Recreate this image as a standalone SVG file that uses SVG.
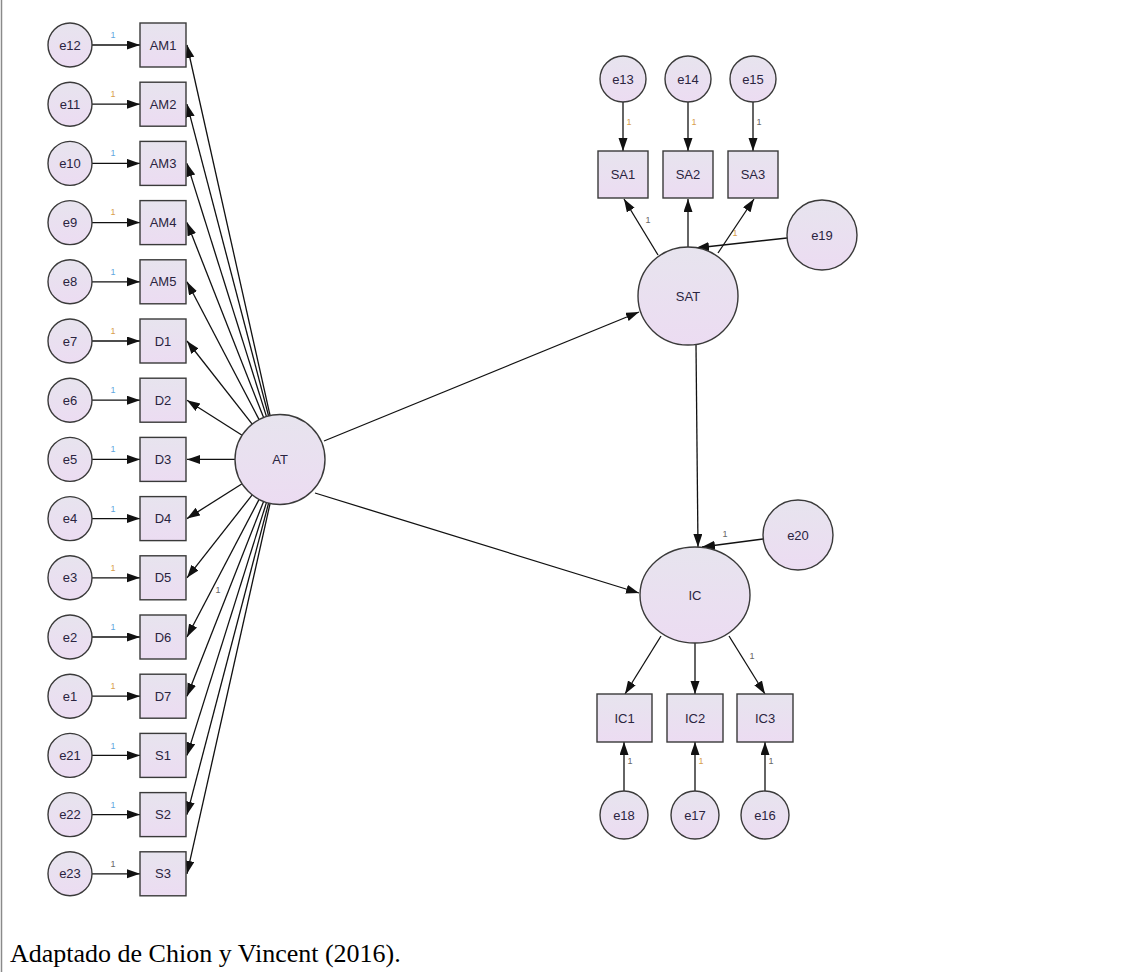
<svg xmlns="http://www.w3.org/2000/svg" width="1137" height="972" viewBox="0 0 1137 972">
  <defs>
    <linearGradient id="nodeFill" x1="0" y1="0" x2="0" y2="1">
      <stop offset="0" stop-color="#e7e4ee"/>
      <stop offset="1" stop-color="#ecdcf2"/>
    </linearGradient>
    <marker id="arrow" markerUnits="userSpaceOnUse" markerWidth="14" markerHeight="10" refX="13" refY="4.5" orient="auto">
      <path d="M0,0 L13,4.5 L0,9 z" fill="#111"/>
    </marker>
    <style>
      .node { fill: url(#nodeFill); stroke: #3a3a3a; stroke-width: 1.4; }
      .lbl { font-family: "Liberation Sans", Arial, sans-serif; font-size: 13px; fill: #2a2440; text-anchor: middle; dominant-baseline: central; }
      .edge { stroke: #111; stroke-width: 1.3; fill: none; marker-end: url(#arrow); }
      .w { font-family: "Liberation Sans", Arial, sans-serif; font-size: 9px; text-anchor: middle; }
      .wb { fill: #5fa8e0; }
      .wo { fill: #d9a050; }
      .wg { fill: #666; }
      .caption { font-family: "Liberation Serif", "Times New Roman", serif; font-size: 26px; fill: #000; }
    </style>
  </defs>

  <rect width="1137" height="972" fill="#fff"/>
  <line x1="1.5" y1="0" x2="1.5" y2="972" stroke="#8a8a8a" stroke-width="1.5"/>

  <!-- connectors -->
  <g id="connectors">
    <!-- error terms into left indicators -->
    <line class="edge" x1="92" y1="45" x2="140" y2="45"/>
    <line class="edge" x1="92" y1="104.2" x2="140" y2="104.2"/>
    <line class="edge" x1="92" y1="163.4" x2="140" y2="163.4"/>
    <line class="edge" x1="92" y1="222.6" x2="140" y2="222.6"/>
    <line class="edge" x1="92" y1="281.8" x2="140" y2="281.8"/>
    <line class="edge" x1="92" y1="341" x2="140" y2="341"/>
    <line class="edge" x1="92" y1="400.2" x2="140" y2="400.2"/>
    <line class="edge" x1="92" y1="459.4" x2="140" y2="459.4"/>
    <line class="edge" x1="92" y1="518.6" x2="140" y2="518.6"/>
    <line class="edge" x1="92" y1="577.8" x2="140" y2="577.8"/>
    <line class="edge" x1="92" y1="637" x2="140" y2="637"/>
    <line class="edge" x1="92" y1="696.2" x2="140" y2="696.2"/>
    <line class="edge" x1="92" y1="755.4" x2="140" y2="755.4"/>
    <line class="edge" x1="92" y1="814.6" x2="140" y2="814.6"/>
    <line class="edge" x1="92" y1="873.8" x2="140" y2="873.8"/>

    <!-- AT loadings -->
    <line class="edge" x1="270.1" y1="415.6" x2="187" y2="45"/>
    <line class="edge" x1="268.6" y1="416.0" x2="187" y2="104.2"/>
    <line class="edge" x1="266.5" y1="416.6" x2="187" y2="163.4"/>
    <line class="edge" x1="263.6" y1="417.6" x2="187" y2="222.6"/>
    <line class="edge" x1="259.1" y1="419.6" x2="187" y2="281.8"/>
    <line class="edge" x1="252.2" y1="424.1" x2="187" y2="341"/>
    <line class="edge" x1="242.1" y1="435.3" x2="187" y2="400.2"/>
    <line class="edge" x1="235" y1="459.4" x2="187" y2="459.4"/>
    <line class="edge" x1="242.1" y1="483.7" x2="187" y2="518.6"/>
    <line class="edge" x1="252.2" y1="494.9" x2="187" y2="577.8"/>
    <line class="edge" x1="259.1" y1="499.4" x2="187" y2="637"/>
    <line class="edge" x1="263.6" y1="501.4" x2="187" y2="696.2"/>
    <line class="edge" x1="266.5" y1="502.4" x2="187" y2="755.4"/>
    <line class="edge" x1="268.6" y1="503.0" x2="187" y2="814.6"/>
    <line class="edge" x1="270.1" y1="503.4" x2="187" y2="873.8"/>

    <!-- structural paths -->
    <line class="edge" x1="324" y1="441" x2="639" y2="312"/>
    <line class="edge" x1="315" y1="493" x2="639" y2="593"/>
    <line class="edge" x1="696" y1="345" x2="698" y2="547"/>
    <line class="edge" x1="787" y1="238" x2="696" y2="248"/>
    <line class="edge" x1="763" y1="539" x2="702" y2="547"/>

    <!-- SAT indicators -->
    <line class="edge" x1="623" y1="102" x2="623" y2="151"/>
    <line class="edge" x1="688" y1="102" x2="688" y2="151"/>
    <line class="edge" x1="753" y1="102" x2="753" y2="151"/>
    <line class="edge" x1="658" y1="255" x2="624" y2="199"/>
    <line class="edge" x1="688" y1="247" x2="688" y2="199"/>
    <line class="edge" x1="718" y1="253" x2="754" y2="199"/>

    <!-- IC indicators -->
    <line class="edge" x1="661" y1="636" x2="625" y2="694"/>
    <line class="edge" x1="695" y1="643" x2="695" y2="694"/>
    <line class="edge" x1="729" y1="636" x2="765" y2="694"/>
    <line class="edge" x1="624" y1="791" x2="624" y2="742"/>
    <line class="edge" x1="695" y1="791" x2="695" y2="742"/>
    <line class="edge" x1="765" y1="791" x2="765" y2="742"/>

    <!-- fixed weights -->
    <text class="w wb" x="113" y="38">1</text>
    <text class="w wo" x="113" y="97">1</text>
    <text class="w wb" x="113" y="156">1</text>
    <text class="w wo" x="113" y="215">1</text>
    <text class="w wb" x="113" y="275">1</text>
    <text class="w wo" x="113" y="334">1</text>
    <text class="w wb" x="113" y="393">1</text>
    <text class="w wb" x="113" y="452">1</text>
    <text class="w wb" x="113" y="512">1</text>
    <text class="w wo" x="113" y="571">1</text>
    <text class="w wb" x="113" y="630">1</text>
    <text class="w wo" x="113" y="689">1</text>
    <text class="w wb" x="113" y="749">1</text>
    <text class="w wb" x="113" y="808">1</text>
    <text class="w wg" x="113" y="867">1</text>
    <text class="w wg" x="218" y="593">1</text>
    <text class="w wo" x="629" y="125">1</text>
    <text class="w wo" x="694" y="125">1</text>
    <text class="w wg" x="759" y="125">1</text>
    <text class="w wg" x="648" y="223">1</text>
    <text class="w wo" x="735" y="236">1</text>
    <text class="w wg" x="725" y="537">1</text>
    <text class="w wg" x="752" y="659">1</text>
    <text class="w wg" x="630" y="764">1</text>
    <text class="w wo" x="701" y="764">1</text>
    <text class="w wg" x="771" y="764">1</text>
  </g>

  <!-- error terms, left column -->
  <g id="e12"><circle class="node" cx="70" cy="45" r="22"/><text class="lbl" x="70" y="45">e12</text></g>
  <g id="e11"><circle class="node" cx="70" cy="104.2" r="22"/><text class="lbl" x="70" y="104.2">e11</text></g>
  <g id="e10"><circle class="node" cx="70" cy="163.4" r="22"/><text class="lbl" x="70" y="163.4">e10</text></g>
  <g id="e9"><circle class="node" cx="70" cy="222.6" r="22"/><text class="lbl" x="70" y="222.6">e9</text></g>
  <g id="e8"><circle class="node" cx="70" cy="281.8" r="22"/><text class="lbl" x="70" y="281.8">e8</text></g>
  <g id="e7"><circle class="node" cx="70" cy="341" r="22"/><text class="lbl" x="70" y="341">e7</text></g>
  <g id="e6"><circle class="node" cx="70" cy="400.2" r="22"/><text class="lbl" x="70" y="400.2">e6</text></g>
  <g id="e5"><circle class="node" cx="70" cy="459.4" r="22"/><text class="lbl" x="70" y="459.4">e5</text></g>
  <g id="e4"><circle class="node" cx="70" cy="518.6" r="22"/><text class="lbl" x="70" y="518.6">e4</text></g>
  <g id="e3"><circle class="node" cx="70" cy="577.8" r="22"/><text class="lbl" x="70" y="577.8">e3</text></g>
  <g id="e2"><circle class="node" cx="70" cy="637" r="22"/><text class="lbl" x="70" y="637">e2</text></g>
  <g id="e1"><circle class="node" cx="70" cy="696.2" r="22"/><text class="lbl" x="70" y="696.2">e1</text></g>
  <g id="e21"><circle class="node" cx="70" cy="755.4" r="22"/><text class="lbl" x="70" y="755.4">e21</text></g>
  <g id="e22"><circle class="node" cx="70" cy="814.6" r="22"/><text class="lbl" x="70" y="814.6">e22</text></g>
  <g id="e23"><circle class="node" cx="70" cy="873.8" r="22"/><text class="lbl" x="70" y="873.8">e23</text></g>

  <!-- observed indicators of AT -->
  <g id="AM1"><rect class="node" x="140" y="23" width="46" height="44"/><text class="lbl" x="163" y="45">AM1</text></g>
  <g id="AM2"><rect class="node" x="140" y="82.2" width="46" height="44"/><text class="lbl" x="163" y="104.2">AM2</text></g>
  <g id="AM3"><rect class="node" x="140" y="141.4" width="46" height="44"/><text class="lbl" x="163" y="163.4">AM3</text></g>
  <g id="AM4"><rect class="node" x="140" y="200.6" width="46" height="44"/><text class="lbl" x="163" y="222.6">AM4</text></g>
  <g id="AM5"><rect class="node" x="140" y="259.8" width="46" height="44"/><text class="lbl" x="163" y="281.8">AM5</text></g>
  <g id="D1"><rect class="node" x="140" y="319" width="46" height="44"/><text class="lbl" x="163" y="341">D1</text></g>
  <g id="D2"><rect class="node" x="140" y="378.2" width="46" height="44"/><text class="lbl" x="163" y="400.2">D2</text></g>
  <g id="D3"><rect class="node" x="140" y="437.4" width="46" height="44"/><text class="lbl" x="163" y="459.4">D3</text></g>
  <g id="D4"><rect class="node" x="140" y="496.6" width="46" height="44"/><text class="lbl" x="163" y="518.6">D4</text></g>
  <g id="D5"><rect class="node" x="140" y="555.8" width="46" height="44"/><text class="lbl" x="163" y="577.8">D5</text></g>
  <g id="D6"><rect class="node" x="140" y="615" width="46" height="44"/><text class="lbl" x="163" y="637">D6</text></g>
  <g id="D7"><rect class="node" x="140" y="674.2" width="46" height="44"/><text class="lbl" x="163" y="696.2">D7</text></g>
  <g id="S1"><rect class="node" x="140" y="733.4" width="46" height="44"/><text class="lbl" x="163" y="755.4">S1</text></g>
  <g id="S2"><rect class="node" x="140" y="792.6" width="46" height="44"/><text class="lbl" x="163" y="814.6">S2</text></g>
  <g id="S3"><rect class="node" x="140" y="851.8" width="46" height="44"/><text class="lbl" x="163" y="873.8">S3</text></g>

  <!-- latent variables -->
  <g id="AT"><circle class="node" cx="280" cy="459.5" r="45"/><text class="lbl" x="280" y="459.5">AT</text></g>
  <g id="SAT"><ellipse class="node" cx="688" cy="296" rx="50" ry="49"/><text class="lbl" x="688" y="296">SAT</text></g>
  <g id="IC"><ellipse class="node" cx="695" cy="595" rx="55" ry="48"/><text class="lbl" x="695" y="595">IC</text></g>

  <!-- SAT block -->
  <g id="e13"><circle class="node" cx="623" cy="79" r="23"/><text class="lbl" x="623" y="79">e13</text></g>
  <g id="e14"><circle class="node" cx="688" cy="79" r="23"/><text class="lbl" x="688" y="79">e14</text></g>
  <g id="e15"><circle class="node" cx="753" cy="79" r="23"/><text class="lbl" x="753" y="79">e15</text></g>
  <g id="SA1"><rect class="node" x="598" y="151" width="50" height="47"/><text class="lbl" x="623" y="174.5">SA1</text></g>
  <g id="SA2"><rect class="node" x="663" y="151" width="50" height="47"/><text class="lbl" x="688" y="174.5">SA2</text></g>
  <g id="SA3"><rect class="node" x="728" y="151" width="50" height="47"/><text class="lbl" x="753" y="174.5">SA3</text></g>
  <g id="e19"><circle class="node" cx="822" cy="235" r="35"/><text class="lbl" x="822" y="235">e19</text></g>

  <!-- IC block -->
  <g id="e20"><circle class="node" cx="798" cy="535" r="35"/><text class="lbl" x="798" y="535">e20</text></g>
  <g id="IC1"><rect class="node" x="597" y="694" width="55" height="48"/><text class="lbl" x="624.5" y="718">IC1</text></g>
  <g id="IC2"><rect class="node" x="667" y="694" width="56" height="48"/><text class="lbl" x="695" y="718">IC2</text></g>
  <g id="IC3"><rect class="node" x="737" y="694" width="56" height="48"/><text class="lbl" x="765" y="718">IC3</text></g>
  <g id="e18"><circle class="node" cx="624" cy="815" r="24"/><text class="lbl" x="624" y="815">e18</text></g>
  <g id="e17"><circle class="node" cx="695" cy="815" r="24"/><text class="lbl" x="695" y="815">e17</text></g>
  <g id="e16"><circle class="node" cx="765" cy="815" r="24"/><text class="lbl" x="765" y="815">e16</text></g>

  <text class="caption" x="10" y="962">Adaptado de Chion y Vincent (2016).</text>
</svg>
